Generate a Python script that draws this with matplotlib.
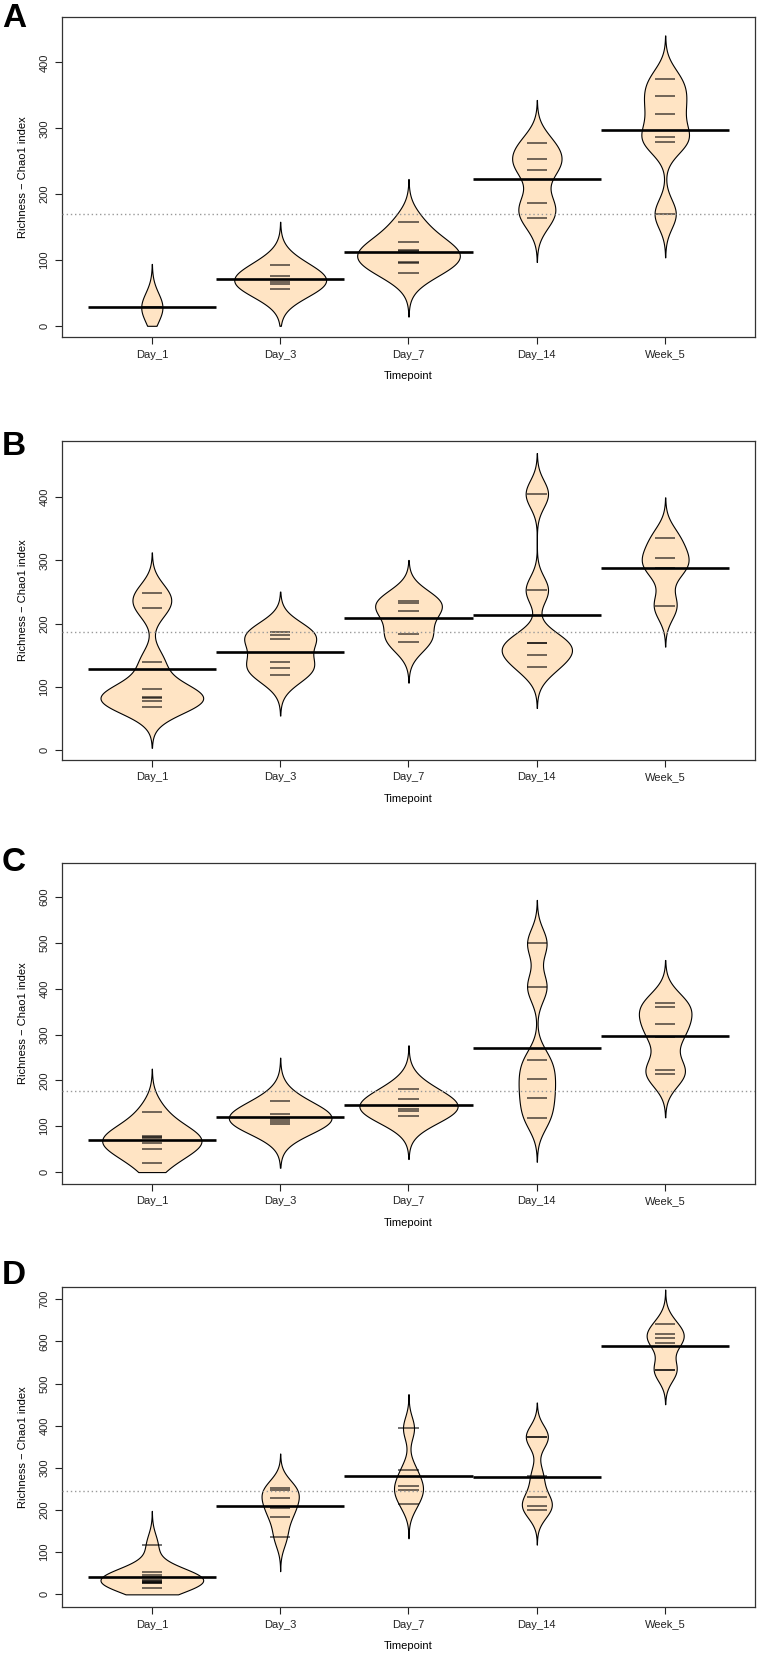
import numpy as np
import matplotlib
matplotlib.use("Agg")
import matplotlib.pyplot as plt

plt.rcParams['font.family'] = ['Liberation Sans', 'DejaVu Sans']

# Categorías y valores de cada panel (Chao1 por muestra)
TIMEPOINTS = ["Day_1", "Day_3", "Day_7", "Day_14", "Week_5"]
LETRAS = ["A", "B", "C", "D"]

PANEL_A = [
    [28],
    [92, 76, 66, 64, 56],
    [157, 128, 115, 113, 97, 95, 80],
    [277, 254, 237, 187, 163],
    [375, 349, 322, 287, 279, 170],
]
PANEL_B = [
    [248, 225, 139, 97, 84, 83, 77, 68],
    [186, 182, 175, 139, 130, 119],
    [236, 233, 220, 183, 171],
    [405, 253, 169, 169, 150, 131],
    [335, 303, 287, 228],
]
PANEL_C = [
    [131, 79, 77, 75, 63, 50, 19],
    [155, 126, 118, 113, 109, 104],
    [182, 159, 145, 137, 133, 123],
    [499, 404, 244, 203, 162, 117],
    [368, 359, 323, 294, 222, 214],
]
PANEL_D = [
    [117, 53, 47, 41, 35, 31, 30, 29, 28, 27, 15],
    [253, 248, 229, 205, 184, 136],
    [394, 294, 257, 247, 214],
    [374, 374, 281, 230, 209, 199],
    [642, 618, 608, 596, 532, 532],
]

Y_TICKS_A = [0, 100, 200, 300, 400]
Y_TICKS_B = [0, 100, 200, 300, 400]
Y_TICKS_C = [0, 100, 200, 300, 400, 500, 600]
Y_TICKS_D = [0, 100, 200, 300, 400, 500, 600, 700]

# Ancho de banda aproximado de cada panel
BW = [22, 21.5, 31.5, 27]
YLIMS = [(-17, 469), (-15.8, 488.6), (-26, 674), (-30, 729)]

# Posición de cada panel en píxeles (arriba, abajo)
W, H = 758, 1653
IZQ, DER = 62, 755
CAJAS = [(17, 337), (441, 760), (863, 1184), (1287, 1607)]
LETRA_Y = [3, 431, 847, 1260]

RELLENO = "#FFE4C4"


def densidad(vals, bw):
    vals = np.asarray(vals, dtype=float)
    lo = max(0.0, vals.min() - 3 * bw)
    hi = vals.max() + 3 * bw
    y = np.linspace(lo, hi, 600)
    d = np.exp(-0.5 * ((y[:, None] - vals[None, :]) / bw) ** 2).sum(axis=1)
    return y, d


def dibujar_panel(ax, datos, bw, yticks, ylim):
    dens = [densidad(v, bw) for v in datos]
    escala = 0.4 / max(d.max() for _, d in dens)
    todos = np.concatenate([np.asarray(v, dtype=float) for v in datos])

    for i, (vals, (y, d)) in enumerate(zip(datos, dens)):
        pos = i + 1
        w = d * escala
        ax.fill_betweenx(y, pos - w, pos + w, facecolor=RELLENO,
                         edgecolor="black", linewidth=0.8, zorder=2)
        ax.hlines(vals, pos - 0.08, pos + 0.08, colors="black",
                  alpha=0.6, linewidth=1.3, zorder=3)
        ax.hlines(np.mean(vals), pos - 0.5, pos + 0.5, colors="black",
                  linewidth=1.9, zorder=4)

    ax.axhline(todos.mean(), color="#999999", linestyle=(0, (1, 2)),
               linewidth=1.0, zorder=3)

    ax.set_xlim(0.3, 5.7)
    ax.set_ylim(*ylim)
    ax.set_xticks(range(1, 6))
    ax.set_xticklabels(TIMEPOINTS)
    ax.set_yticks(yticks)
    ax.tick_params(direction="out", length=5, width=0.8, labelsize=8,
                   pad=4, colors="#222222")
    for lab in ax.get_yticklabels():
        lab.set_rotation(90)
        lab.set_va("center")
    for s in ax.spines.values():
        s.set_color("#333333")
        s.set_linewidth(0.9)
    ax.set_xlabel("Timepoint", fontsize=8, labelpad=8)
    ax.set_ylabel("Richness \u2212 Chao1 index", fontsize=8, labelpad=8)


fig = plt.figure(figsize=(W / 100, H / 100), dpi=100)
paneles = [PANEL_A, PANEL_B, PANEL_C, PANEL_D]
ticks = [Y_TICKS_A, Y_TICKS_B, Y_TICKS_C, Y_TICKS_D]

for k in range(4):
    top, bot = CAJAS[k]
    ax = fig.add_axes([IZQ / W, 1 - bot / H, (DER - IZQ) / W, (bot - top) / H])
    dibujar_panel(ax, paneles[k], BW[k], ticks[k], YLIMS[k])
    fig.text(2 / W, 1 - LETRA_Y[k] / H, LETRAS[k], fontsize=24,
             fontweight="bold", va="top", ha="left")

fig.savefig("out.png", dpi=100)
